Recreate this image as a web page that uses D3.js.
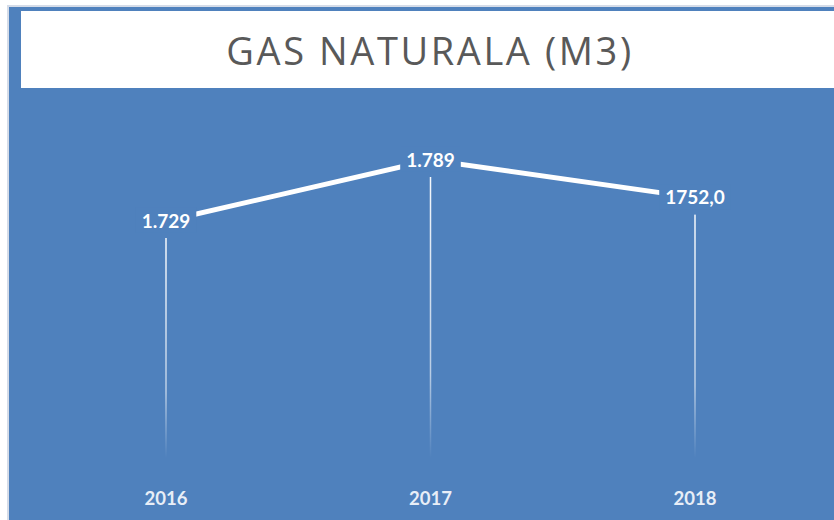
<!DOCTYPE html>
<html>
<head>
<meta charset="utf-8">
<script src="https://cdn.jsdelivr.net/npm/d3@7"></script>
<style>
  body { margin: 0; background: #fff; }
  svg { display: block; }
</style>
</head>
<body>
<svg id="chart" width="834" height="520"></svg>
<script>
var years = ['2016', '2017', '2018'],
    values = [1729, 1789, 1752],
    labels = ['1.729', '1.789', '1752,0'],
    title = 'GAS NATURALA (M3)';

var svg = d3.select('#chart'),
    width = +svg.attr('width'),
    height = +svg.attr('height'),
    blue = '#4f81bd';

// background panel
svg.append('rect').attr('x', 9).attr('y', 7).attr('width', width - 9).attr('height', height - 7).attr('fill', blue);
svg.append('rect').attr('x', 7).attr('y', 5).attr('width', 2).attr('height', height).attr('fill', '#d5dce8');
svg.append('rect').attr('x', 7).attr('y', 5).attr('width', width).attr('height', 2).attr('fill', '#d5dce8');

// title box
svg.append('rect').attr('x', 21).attr('y', 11).attr('width', width - 21).attr('height', 77).attr('fill', '#fff');
svg.append('text')
    .attr('x', 430).attr('y', 65)
    .attr('text-anchor', 'middle')
    .attr('font-family', 'Open Sans')
    .attr('font-size', 38)
    .attr('letter-spacing', 2.6)
    .attr('fill', '#595959')
    .text(title);

var x = d3.scalePoint().domain(years).range([166, 695]),
    y = d3.scaleLinear().domain([1729, 1789]).range([221, 160]);

var defs = svg.append('defs');
var grad = defs.append('linearGradient').attr('id', 'fade').attr('x1', 0).attr('y1', 0).attr('x2', 0).attr('y2', 1);
grad.append('stop').attr('offset', '0%').attr('stop-color', '#fff').attr('stop-opacity', 0.95);
grad.append('stop').attr('offset', '70%').attr('stop-color', '#fff').attr('stop-opacity', 0.6);
grad.append('stop').attr('offset', '100%').attr('stop-color', '#fff').attr('stop-opacity', 0);

// drop lines
svg.append('g').selectAll('rect')
    .data(values)
    .enter().append('rect')
    .attr('x', function(d, i) { return x(years[i]) - 0.75; })
    .attr('y', function(d) { return y(d) + 17; })
    .attr('width', 1.5)
    .attr('height', function(d) { return 458 - (y(d) + 17); })
    .attr('fill', 'url(#fade)');

// line
var line = d3.line()
    .x(function(d, i) { return x(years[i]); })
    .y(function(d) { return y(d); });

svg.append('path')
    .datum(values)
    .attr('d', line)
    .attr('fill', 'none')
    .attr('stroke', '#fff')
    .attr('stroke-width', 5);

// data labels with background mask
var lab = svg.append('g').selectAll('g')
    .data(values)
    .enter().append('g')
    .attr('transform', function(d, i) { return 'translate(' + x(years[i]) + ',' + y(d) + ')'; });

lab.append('text')
    .attr('text-anchor', 'middle')
    .attr('dy', '0.35em')
    .attr('font-family', 'Lato')
    .attr('font-weight', 'bold')
    .attr('font-size', 19)
    .attr('fill', '#fff')
    .text(function(d, i) { return labels[i]; })
    .each(function() {
        var b = this.getBBox();
        d3.select(this.parentNode).insert('rect', 'text')
            .attr('x', b.x - 6).attr('y', b.y - 1)
            .attr('width', b.width + 12).attr('height', b.height + 2)
            .attr('fill', blue);
    });

// year axis labels
svg.append('g').selectAll('text')
    .data(years)
    .enter().append('text')
    .attr('x', function(d) { return x(d); })
    .attr('y', 505)
    .attr('text-anchor', 'middle')
    .attr('font-family', 'Lato')
    .attr('font-weight', 'bold')
    .attr('font-size', 18.5)
    .attr('fill', '#e8eef7')
    .text(function(d) { return d; });
</script>
</body>
</html>
